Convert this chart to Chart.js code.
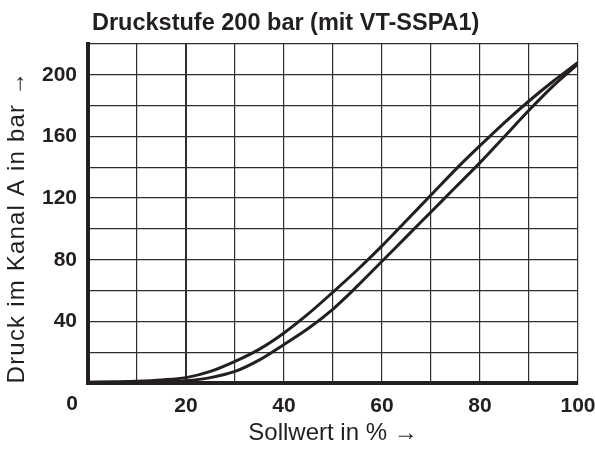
<!DOCTYPE html>
<html>
<head>
<meta charset="utf-8">
<script src="https://cdn.jsdelivr.net/npm/chart.js@4"></script>
<style>
  html, body { margin: 0; padding: 0; background: #fff; }
  #wrap { width: 595px; height: 449px; }
</style>
</head>
<body>
<div id="wrap"><canvas id="kennlinie" width="595" height="449"></canvas></div>
<script>
// ------------------------------------------------------- //
// Daten
// ------------------------------------------------------- //
var sollwert = [0, 5, 10, 15, 20, 25, 30, 35, 40, 45, 50, 55, 60, 65, 70, 75, 80, 85, 90, 95, 100];
var druckOben = [0.5, 0.8, 1.2, 2, 3.5, 7.5, 14, 22, 32.5, 45, 59, 73.5, 89, 105.5, 122, 138.5, 154, 169, 183, 196, 208];
var druckUnten = [0, 0.3, 0.6, 1, 1.5, 3.5, 7.5, 15, 25, 35.5, 48, 63, 79, 95, 111, 127, 143, 160, 177, 193, 207];

var xTicks = [20, 40, 60, 80, 100];
var yTicks = [40, 80, 120, 160, 200];

var titel = 'Druckstufe 200 bar (mit VT-SSPA1)';
var xTitel = 'Sollwert in % \u2192';
var yTitel = 'Druck im Kanal A in bar \u2192';

var schwarz = '#231f20';
var gitter = '#2e2e2e';
var schrift = '"Liberation Sans", Arial, Helvetica, sans-serif';

function punkte(ys) {
    return sollwert.map(function (x, i) { return { x: x, y: ys[i] }; });
}

// Titel oben links, y-Achsentitel und gemeinsame "0" unten links
var extraText = {
    id: 'extraText',
    afterDraw: function (chart) {
        var ctx = chart.ctx;
        var area = chart.chartArea;
        ctx.save();
        ctx.fillStyle = schwarz;
        ctx.font = 'bold 23.5px ' + schrift;
        ctx.textAlign = 'left';
        ctx.textBaseline = 'alphabetic';
        ctx.fillText(titel, area.left + 4, 30);

        ctx.font = 'bold 21px ' + schrift;
        ctx.textAlign = 'right';
        ctx.textBaseline = 'middle';
        ctx.fillText('0', area.left - 10, area.bottom + 21);

        ctx.translate(17, 227);
        ctx.rotate(-Math.PI / 2);
        ctx.font = '24px ' + schrift;
        ctx.letterSpacing = '1.2px';
        ctx.textAlign = 'center';
        ctx.fillText(yTitel, 0, 0);
        ctx.restore();
    }
};

var lineStyle = {
    borderColor: schwarz,
    borderWidth: 3,
    pointRadius: 0,
    fill: false,
    cubicInterpolationMode: 'monotone'
};

new Chart(document.getElementById('kennlinie'), {
    type: 'line',
    data: {
        datasets: [
            Object.assign({ label: 'oben', data: punkte(druckOben) }, lineStyle),
            Object.assign({ label: 'unten', data: punkte(druckUnten) }, lineStyle)
        ]
    },
    options: {
        responsive: false,
        animation: false,
        layout: { padding: { top: 44, right: 17, left: 0, bottom: 0 } },
        plugins: {
            legend: { display: false },
            tooltip: { enabled: false }
        },
        scales: {
            x: {
                type: 'linear',
                min: 0,
                max: 100,
                afterFit: function (scale) {
                    scale.height = 66;
                    scale.paddingLeft = 0;
                    scale.paddingRight = 0;
                },
                grid: {
                    color: gitter,
                    lineWidth: function (c) { return c.tick && c.tick.value === 20 ? 2 : 1.2; },
                    drawTicks: false
                },
                border: { color: schwarz, width: 4 },
                ticks: {
                    stepSize: 10,
                    padding: 11,
                    color: schwarz,
                    font: { family: schrift, size: 21, weight: 'bold' },
                    maxRotation: 0,
                    callback: function (v) { return xTicks.indexOf(v) >= 0 ? String(v) : ''; }
                },
                title: {
                    display: true,
                    text: xTitel,
                    color: schwarz,
                    font: { family: schrift, size: 24 },
                    padding: { top: 0, bottom: 1 }
                }
            },
            y: {
                min: 0,
                max: 220,
                afterFit: function (scale) {
                    scale.width = 88;
                    scale.paddingTop = 0;
                    scale.paddingBottom = 0;
                },
                grid: { color: gitter, lineWidth: 1.2, drawTicks: false },
                border: { color: schwarz, width: 4 },
                ticks: {
                    stepSize: 20,
                    padding: 11,
                    color: schwarz,
                    font: { family: schrift, size: 21, weight: 'bold' },
                    callback: function (v) { return yTicks.indexOf(v) >= 0 ? String(v) : ''; }
                }
            }
        }
    },
    plugins: [extraText]
});
</script>
</body>
</html>
